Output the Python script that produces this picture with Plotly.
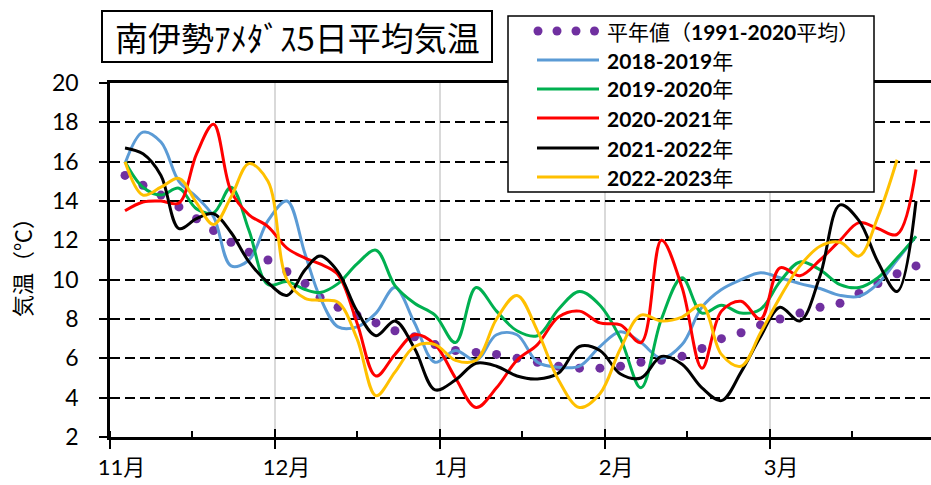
import plotly.graph_objects as go

# 南伊勢アメダス 5日平均気温 (℃)、11月初め〜3月末
# x position of each point, in months from 1 Nov
pos = [0.091, 0.200, 0.309, 0.418, 0.525, 0.628, 0.734, 0.843, 0.958, 1.073,
       1.183, 1.274, 1.383, 1.498, 1.613, 1.728, 1.847, 1.971, 2.095, 2.220,
       2.344, 2.468, 2.592, 2.720, 2.847, 2.971, 3.096, 3.220, 3.344, 3.469,
       3.590, 3.708, 3.827, 3.945, 4.063, 4.184, 4.306, 4.427, 4.542, 4.657,
       4.773, 4.888]
normal = [15.3, 14.8, 14.3, 13.7, 13.1, 12.5, 11.9, 11.4, 11.0, 10.4,
          9.8, 9.1, 8.6, 8.2, 7.8, 7.4, 7.1, 6.7, 6.4, 6.3,
          6.2, 6.0, 5.8, 5.6, 5.5, 5.5, 5.6, 5.8, 5.9, 6.1,
          6.5, 7.0, 7.3, 7.7, 8.0, 8.3, 8.6, 8.8, 9.3, 9.8,
          10.3, 10.7]
t2018 = [15.9, 17.5, 17.0, 15.0, 14.2, 13.2, 10.7, 11.0, 13.0, 14.0,
         11.3, 9.1, 7.6, 7.6, 8.3, 9.6, 7.8, 5.8, 6.4, 5.9,
         7.2, 7.2, 5.8, 5.55, 5.6, 6.6, 7.35, 6.8, 6.0, 6.7,
         8.6, 9.5, 10.0, 10.35, 10.1, 9.8, 9.55, 9.2, 9.15, 9.8,
         11.0, 12.2]
t2019 = [16.0, 14.7, 14.3, 14.65, 13.6, 13.4, 14.7, 12.5, 9.75, 9.9,
         9.5, 9.35, 9.8, 10.8, 11.5, 9.7, 8.8, 8.2, 6.8, 9.6,
         8.4, 7.4, 7.15, 8.5, 9.4, 8.7, 7.0, 4.5, 8.0, 10.1,
         8.3, 8.7, 8.3, 8.5, 9.9, 10.9, 10.5, 9.75, 9.6, 10.1,
         11.1, 12.2]
t2020 = [13.5, 13.95, 14.0, 13.9, 16.4, 17.9, 14.5, 13.3, 12.7, 11.6,
         11.1, 10.8, 10.25, 7.8, 5.1, 6.2, 7.2, 6.7, 5.0, 3.5,
         4.5, 5.9, 6.7, 8.1, 8.4, 7.8, 7.7, 6.8, 12.0, 9.6,
         5.5, 8.4, 8.9, 8.0, 10.6, 10.2, 11.0, 12.0, 12.9, 12.6,
         12.3, 15.6]
t2021 = [16.7, 16.4, 15.3, 12.6, 13.1, 13.35, 12.4, 10.9, 9.85, 9.2,
         10.5, 11.2, 10.4, 8.4, 7.15, 7.9, 6.5, 4.4, 4.9, 5.75,
         5.6, 5.1, 4.95, 5.25, 6.6, 6.4, 5.2, 5.0, 6.1, 5.7,
         4.5, 3.85, 5.3, 7.1, 8.6, 7.9, 10.2, 13.8, 13.0, 10.9,
         9.4, 14.0]
t2022 = [16.0, 14.3, 14.7, 15.15, 13.9, 12.8, 14.2, 15.9, 15.0, 10.0,
         9.05, 8.95, 8.85, 7.0, 4.1, 5.3, 6.6, 6.7, 5.9, 5.9,
         8.0, 9.2, 7.4, 4.9, 3.5, 4.2, 6.5, 8.2, 7.9, 8.1,
         8.7, 6.2, 5.6, 7.3, 9.1, 10.7, 11.7, 11.9, 11.2, 13.2,
         16.1]

months = ["11月", "12月", "1月", "2月", "3月"]
month_ticks = [0, 1, 2, 3, 4]

series = [
    ("2018-2019年", t2018, "#5B9BD5"),
    ("2019-2020年", t2019, "#00B050"),
    ("2020-2021年", t2020, "#FF0000"),
    ("2021-2022年", t2021, "#000000"),
    ("2022-2023年", t2022, "#FFC000"),
]
purple = "#7030A0"
FONT = "Lato, 'Noto Sans CJK JP', sans-serif"

# plot area in pixels
W, H = 931, 485
L, R, T, B = 110, 0, 83, 48
PW, PH = W - L - R, H - T - B
MONTH_PX = 164.9


def xp(px):
    return (px - L) / PW


def yp(py):
    return (H - B - py) / PH


x_hi = PW / MONTH_PX

fig = go.Figure()

fig.add_trace(go.Scatter(
    x=pos, y=normal, mode="markers",
    marker=dict(size=9, color=purple), name="平年値", showlegend=False))

for name, vals, col in series:
    fig.add_trace(go.Scatter(
        x=pos[:len(vals)], y=vals, mode="lines", name=name,
        line=dict(color=col, width=3, shape="spline", smoothing=1.0),
        showlegend=False))

# helper traces so the overlay axes get drawn
fig.add_trace(go.Scatter(x=[None], y=[None], xaxis="x2", showlegend=False, hoverinfo="skip"))
fig.add_trace(go.Scatter(x=[None], y=[None], xaxis="x3", showlegend=False, hoverinfo="skip"))

shapes = []
annotations = []

# title box
shapes.append(dict(type="rect", xref="paper", yref="paper",
                   x0=xp(102), x1=xp(492), y0=yp(62), y1=yp(11),
                   line=dict(color="black", width=2), fillcolor="white", layer="above"))
annotations.append(dict(xref="paper", yref="paper", x=xp(297), y=yp(37),
                        text="南伊勢ｱﾒﾀﾞｽ5日平均気温", showarrow=False,
                        font=dict(family="'Noto Sans CJK JP'", size=33, color="black"),
                        xanchor="center", yanchor="middle"))

# legend box
shapes.append(dict(type="rect", xref="paper", yref="paper",
                   x0=xp(508), x1=xp(874), y0=yp(192), y1=yp(16),
                   line=dict(color="black", width=1.5), fillcolor="white", layer="above"))
row_y = [31, 60, 89, 118, 148, 177]
for cx in [538, 557, 576, 594.5]:
    shapes.append(dict(type="circle", xref="paper", yref="paper",
                       x0=xp(cx - 4.5), x1=xp(cx + 4.5),
                       y0=yp(row_y[0] + 4.5), y1=yp(row_y[0] - 4.5),
                       fillcolor=purple, line=dict(width=0), layer="above"))
legend_text = ["平年値（<b>1991-2020</b>平均）"]
for i, (name, vals, col) in enumerate(series):
    yy = row_y[i + 1]
    shapes.append(dict(type="line", xref="paper", yref="paper",
                       x0=xp(537), x1=xp(599), y0=yp(yy), y1=yp(yy),
                       line=dict(color=col, width=3), layer="above"))
    legend_text.append("<b>" + name[:-1] + "</b>年")
for txt, yy in zip(legend_text, row_y):
    annotations.append(dict(xref="paper", yref="paper", x=xp(605), y=yp(yy),
                            text=txt, showarrow=False, xanchor="left", yanchor="middle",
                            font=dict(family=FONT, size=21, color="black")))

# y axis title
annotations.append(dict(xref="paper", yref="paper", x=xp(22), y=yp(262),
                        text="気温（℃）", textangle=-90, showarrow=False,
                        xanchor="center", yanchor="middle",
                        font=dict(family=FONT, size=22, color="black")))

fig.update_layout(
    width=W, height=H,
    margin=dict(l=L, r=R, t=T, b=B),
    plot_bgcolor="white", paper_bgcolor="white",
    showlegend=False,
    font=dict(family=FONT, size=22, color="black"),
    shapes=shapes, annotations=annotations,
    xaxis=dict(range=[0, x_hi], tickmode="array", tickvals=month_ticks,
               showticklabels=False,
               ticks="outside", ticklen=9, tickwidth=2, tickcolor="black",
               showline=True, linewidth=2.5, linecolor="black", mirror=True,
               showgrid=True, gridcolor="#D9D9D9", gridwidth=1.5, zeroline=False,
               minor=dict(tickmode="linear", tick0=0, dtick=0.5,
                          ticks="inside", ticklen=6, tickwidth=2, tickcolor="black",
                          showgrid=False)),
    xaxis2=dict(range=[0, x_hi], overlaying="x", anchor="y", side="bottom",
                tickmode="array", tickvals=[m + 0.07 for m in month_ticks], ticktext=months,
                ticks="", showline=False, showgrid=False, zeroline=False,
                tickfont=dict(family=FONT, size=22, color="black"),
                ticklabelstandoff=15),
    xaxis3=dict(range=[0, x_hi], overlaying="x", anchor="y", side="bottom",
                tickmode="array", tickvals=month_ticks, showticklabels=False,
                ticks="inside", ticklen=8, tickwidth=2, tickcolor="black",
                showline=False, showgrid=False, zeroline=False),
    yaxis=dict(range=[2, 20], tick0=2, dtick=2,
               ticks="outside", ticklen=8, tickwidth=2, tickcolor="black",
               showline=True, linewidth=2.5, linecolor="black",
               showgrid=True, gridcolor="black", gridwidth=1.8, griddash="10px,5px",
               zeroline=False, tickfont=dict(family=FONT, size=23, color="black"),
               ticklabelstandoff=16),
)

fig.write_html("out.html", config={"displayModeBar": False},
               post_script="document.body.style.margin='0';")
